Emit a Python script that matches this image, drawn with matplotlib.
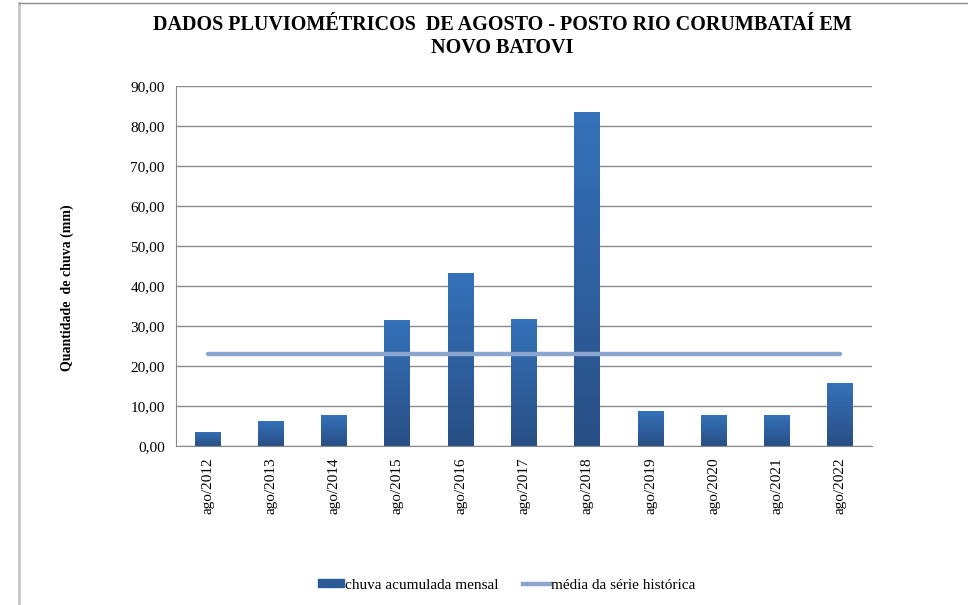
import numpy as np
import matplotlib
matplotlib.use("Agg")
import matplotlib.pyplot as plt
from matplotlib.colors import LinearSegmentedColormap
from matplotlib.patches import Patch
from matplotlib.lines import Line2D

plt.rcParams['font.family'] = ['Liberation Serif', 'DejaVu Serif']

meses = ['ago/2012', 'ago/2013', 'ago/2014', 'ago/2015', 'ago/2016', 'ago/2017',
         'ago/2018', 'ago/2019', 'ago/2020', 'ago/2021', 'ago/2022']
chuva = [3.5, 6.25, 7.75, 31.5, 43.2, 31.7, 83.5, 8.75, 7.75, 7.75, 15.75]
media = [23.0] * len(meses)
yticks = np.arange(0, 91, 10)

fig = plt.figure(figsize=(9.68, 6.05), dpi=100)
ax = fig.add_axes([0.1818, 0.262, 0.719, 0.596])

x = np.arange(len(meses))
bars = ax.bar(x, chuva, width=0.41, color='#2f64a6', zorder=2)

# gradient fill, light on top, dark at the bottom
grad = LinearSegmentedColormap.from_list('g', ['#284f85', '#3572ba'])
for b in bars:
    x0, y0 = b.get_x(), b.get_y()
    w, h = b.get_width(), b.get_height()
    im = ax.imshow(np.linspace(0, 1, 100).reshape(-1, 1), cmap=grad, aspect='auto',
                   origin='lower', extent=[x0, x0 + w, y0, y0 + h], zorder=2)
    im.set_clip_path(b)

ax.plot(x, media, color='#8ba5ce', lw=3.2, solid_capstyle='round', zorder=3)

ax.set_xlim(-0.5, len(meses) - 0.5)
ax.set_ylim(0, 90)
ax.set_yticks(yticks)
ax.set_yticklabels([f'{v:.2f}'.replace('.', ',') for v in yticks], fontsize=11)
ax.set_xticks(x)
ax.set_xticklabels(meses, rotation=90, fontsize=11)
ax.tick_params(length=0, pad=8)
ax.yaxis.grid(True, color='#8a8a8a', lw=1)
ax.set_axisbelow(True)
for s in ['top', 'right']:
    ax.spines[s].set_visible(False)
ax.spines['left'].set_color('#8a8a8a')
ax.spines['bottom'].set_color('#8a8a8a')

ax.set_ylabel('Quantidade  de chuva (mm)', fontsize=10, fontweight='bold')
ax.yaxis.set_label_coords(-0.147, 0.44)

fig.text(0.519, 0.976, 'DADOS PLUVIOMÉTRICOS  DE AGOSTO - POSTO RIO CORUMBATAÍ EM\nNOVO BATOVI',
         ha='center', va='top', fontsize=14.5, fontweight='bold', linespacing=1.22)

handles = [Patch(color='#2c5a96'), Line2D([], [], color='#8ba5ce', lw=3.2)]
fig.legend(handles, ['chuva acumulada mensal', 'média da série histórica'],
           loc='center', bbox_to_anchor=(0.523, 0.033), ncol=2, frameon=False,
           fontsize=11, handlelength=1.75, handleheight=0.45, handletextpad=0.05,
           columnspacing=1.6)

# outer frame (left and top edges)
fig.add_artist(Line2D([0.0196, 0.0196], [0, 0.995], transform=fig.transFigure,
                      color='#c4c4c4', lw=2))
fig.add_artist(Line2D([0.0196, 1], [0.995, 0.995], transform=fig.transFigure,
                      color='#8a8a8a', lw=1))

fig.savefig('out.png', dpi=100)
